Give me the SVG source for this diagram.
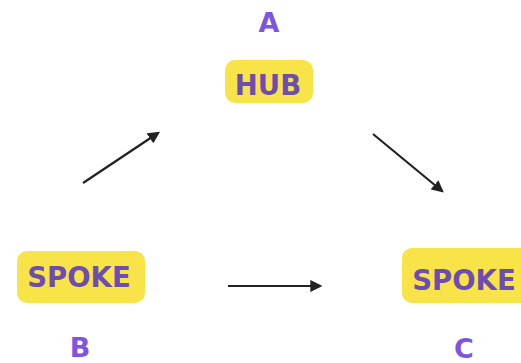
<svg xmlns="http://www.w3.org/2000/svg" width="521" height="363" viewBox="0 0 521 363">
<style>
.box{fill:#F8E448;}
.lbl{font-family:"DejaVu Sans",sans-serif;font-weight:bold;font-size:27.5px;fill:#6E4DB0;text-anchor:middle;}
.let{font-family:"DejaVu Sans",sans-serif;font-weight:bold;font-size:27px;fill:#7E55E0;text-anchor:middle;}
.edge{stroke:#222;stroke-width:2.2;fill:none;marker-end:url(#ah);}
</style>
<defs>
<marker id="ah" viewBox="0 0 10 10" refX="8" refY="5" markerWidth="5.5" markerHeight="5.5" orient="auto" markerUnits="strokeWidth">
<path d="M0,0 L10,5 L0,10 z" fill="#222"/>
</marker>
</defs>
<rect width="521" height="363" fill="#fff"/>
<g id="hub">
<text class="let" x="269" y="32">A</text>
<rect class="box" x="225" y="60" width="88" height="43" rx="10"/>
<text class="lbl" x="268" y="95">HUB</text>
</g>
<g id="spokeB">
<rect class="box" x="17" y="251" width="128" height="52" rx="10"/>
<text class="lbl" x="79" y="287">SPOKE</text>
<text class="let" x="80" y="357">B</text>
</g>
<g id="spokeC">
<rect class="box" x="402" y="248" width="130" height="55" rx="10"/>
<text class="lbl" x="464" y="290">SPOKE</text>
<text class="let" x="464" y="358">C</text>
</g>
<g id="connectors">
<line class="edge" x1="83" y1="183" x2="158" y2="133"/>
<line class="edge" x1="373" y1="134" x2="442" y2="191"/>
<line class="edge" x1="228" y1="286" x2="320" y2="286"/>
</g>
</svg>
